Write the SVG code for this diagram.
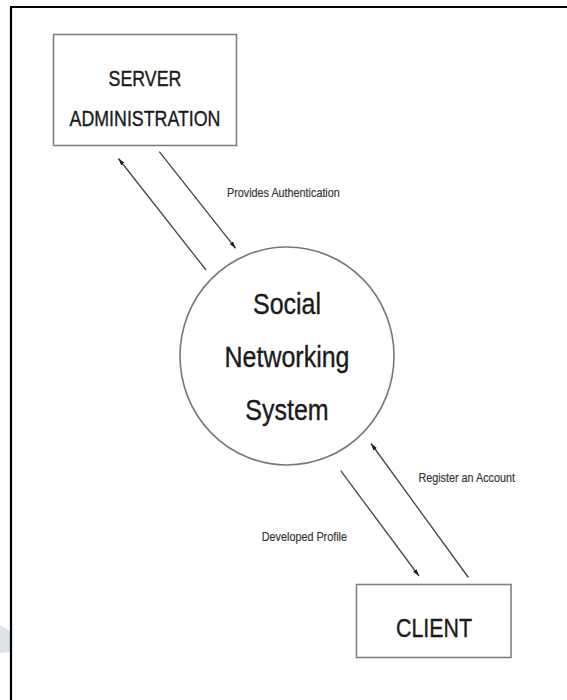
<svg xmlns="http://www.w3.org/2000/svg" width="567" height="700" viewBox="0 0 567 700">
<defs>
<style>
.box{fill:#fff;stroke:#808080;stroke-width:1.6}
.circ{fill:#fff;stroke:#777;stroke-width:1.6}
.t{font-family:"Liberation Sans",Arial,sans-serif;fill:#1a1a1a;stroke:#1a1a1a;stroke-width:0.3;text-anchor:middle}
.lbl{font-family:"Liberation Sans",Arial,sans-serif;fill:#333;stroke:#333;stroke-width:0.15;font-size:10.8px;text-anchor:middle}
.flow{stroke:#444;stroke-width:1.3;fill:none;marker-end:url(#ah)}
</style>
<marker id="ah" viewBox="0 0 10 6" refX="10" refY="3" markerWidth="7" markerHeight="4.8" markerUnits="userSpaceOnUse" orient="auto">
<path d="M0,0 L10,3 L0,6 Z" fill="#1a1a1a"/>
</marker>
</defs>
<rect width="567" height="700" fill="#fff"/>
<path d="M0,625 L10,631 L10,652 L0,653 Z" fill="#dde3e7"/>
<path d="M11,700 V7 H567" fill="none" stroke="#000" stroke-width="2.2"/>
<g id="server">
<rect class="box" x="53.5" y="34.5" width="183" height="111"/>
<text class="t" font-size="17.8" transform="translate(145,85.7) scale(1,1.22)">SERVER</text>
<text class="t" font-size="17.8" transform="translate(145,125.7) scale(1,1.22)">ADMINISTRATION</text>
</g>
<g id="system">
<ellipse class="circ" cx="287" cy="356" rx="107" ry="109"/>
<text class="t" font-size="25" transform="translate(287,314) scale(1,1.2)">Social</text>
<text class="t" font-size="25" transform="translate(287,367) scale(1,1.2)">Networking</text>
<text class="t" font-size="25" transform="translate(287,420) scale(1,1.2)">System</text>
</g>
<g id="client">
<rect class="box" x="356.5" y="584.5" width="154.5" height="73"/>
<text class="t" font-size="21.4" transform="translate(434,636.7) scale(1,1.24)">CLIENT</text>
</g>
<g id="connectors">
<path class="flow" d="M206,270 L118.5,158.5"/>
<path class="flow" d="M159.3,151.7 L235.7,248.3"/>
<path class="flow" d="M340.7,470.7 L419,576"/>
<path class="flow" d="M468.4,577.5 L371,443.5"/>
<text class="lbl" transform="translate(283.4,196.7) scale(1,1.18)">Provides Authentication</text>
<text class="lbl" transform="translate(466.7,482) scale(1,1.18)">Register an Account</text>
<text class="lbl" transform="translate(304.4,540.7) scale(1,1.18)">Developed Profile</text>
</g>
</svg>
